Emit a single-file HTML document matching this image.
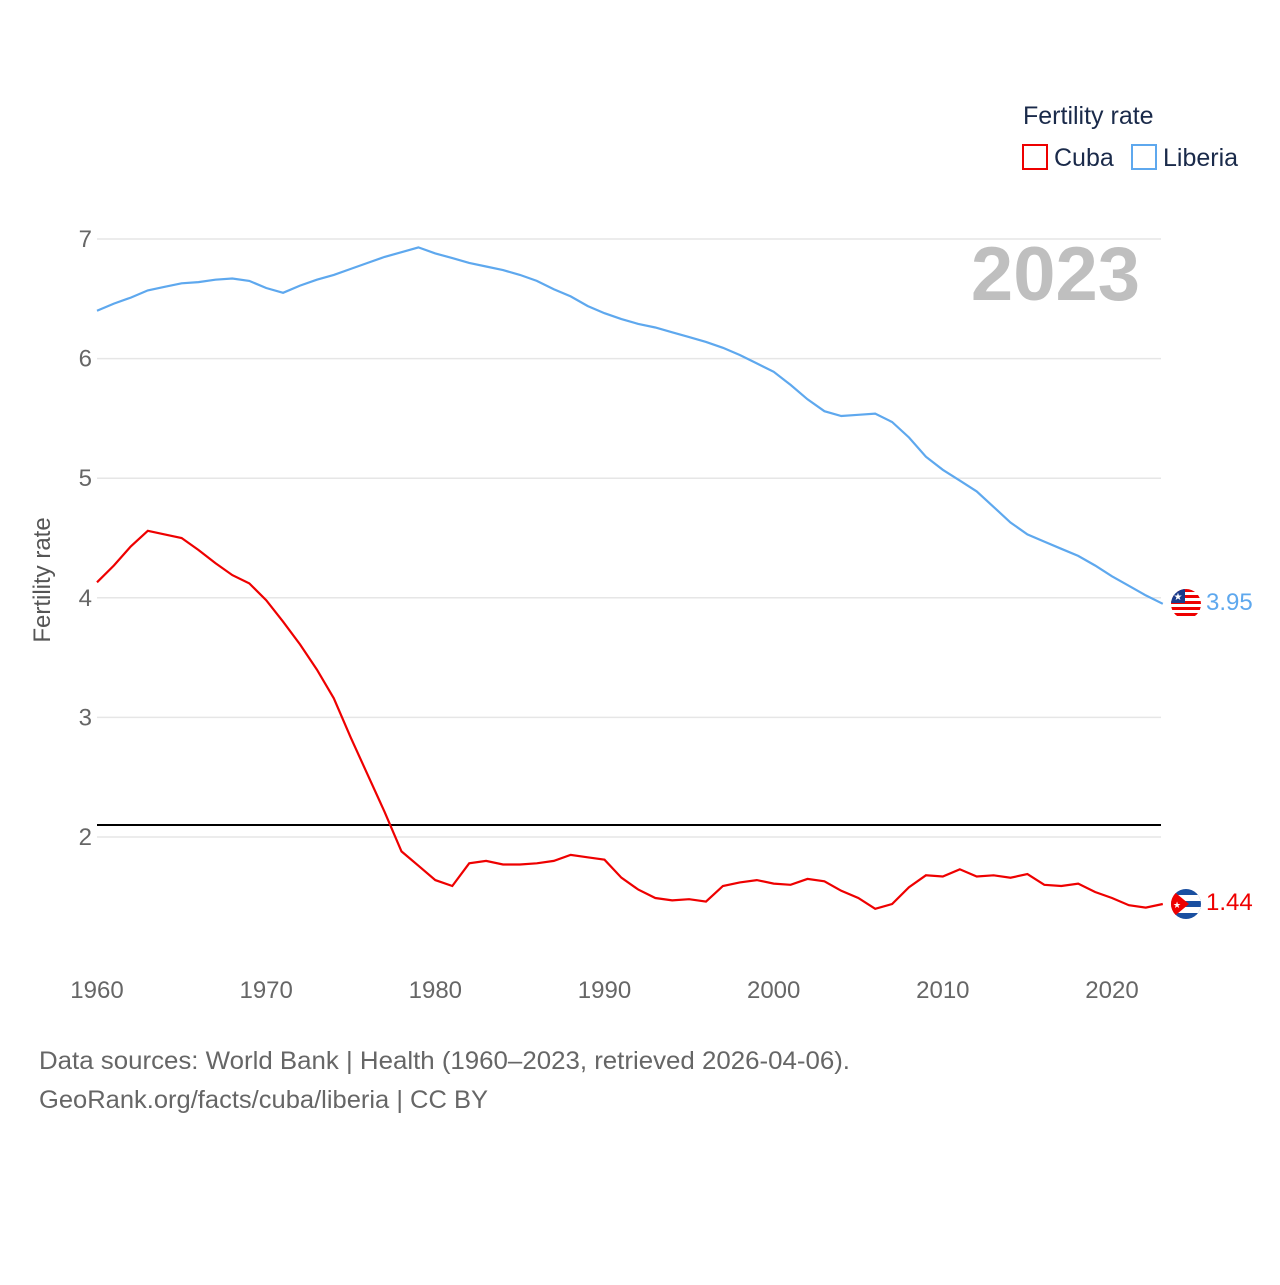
<!DOCTYPE html>
<html><head><meta charset="utf-8"><style>
body{margin:0;background:#fff;font-family:"Liberation Sans",sans-serif}
</style></head><body>
<svg width="1280" height="1280" viewBox="0 0 1280 1280" xmlns="http://www.w3.org/2000/svg" font-family="Liberation Sans, sans-serif">
<defs>
<clipPath id="c1"><circle cx="1186" cy="604" r="15"/></clipPath>
<clipPath id="c2"><circle cx="1186" cy="904" r="15"/></clipPath>
</defs>
<g id="grid"></g>
<g id="axes"></g>
<text x="1140" y="300" text-anchor="end" font-size="76" font-weight="bold" fill="#bfbfbf">2023</text>
<text transform="translate(50,580) rotate(-90)" text-anchor="middle" font-size="24" fill="#555">Fertility rate</text>
<line x1="97" x2="1161" y1="825" y2="825" stroke="#000" stroke-width="2"/>
<g id="series"></g>
<g clip-path="url(#c1)">
<rect x="1171" y="589" width="30" height="30" fill="#fff"/>
<rect x="1171" y="589" width="30" height="3" fill="#e00"/><rect x="1171" y="595" width="30" height="3" fill="#e00"/><rect x="1171" y="601" width="30" height="3" fill="#e00"/><rect x="1171" y="607" width="30" height="3" fill="#e00"/><rect x="1171" y="613" width="30" height="3" fill="#e00"/>
<rect x="1171" y="589" width="14" height="14" fill="#1a3a8a"/>
<text x="1178" y="600" text-anchor="middle" font-size="10" fill="#fff">★</text>
</g>
<g clip-path="url(#c2)">
<rect x="1171" y="889" width="30" height="30" fill="#1a4fa0"/>
<rect x="1171" y="895" width="30" height="6" fill="#fff"/><rect x="1171" y="907" width="30" height="6" fill="#fff"/>
<polygon points="1171,889 1189,904 1171,919" fill="#e00"/>
<text x="1177" y="908" text-anchor="middle" font-size="9" fill="#fff">★</text>
</g>
<text x="1206" y="610" font-size="24" fill="#5ea8ee">3.95</text>
<text x="1206" y="910" font-size="24" fill="#e00">1.44</text>
<text x="1023" y="124" font-size="25" fill="#1a2a4a">Fertility rate</text>
<rect x="1023" y="145" width="24" height="24" fill="none" stroke="#e00" stroke-width="2"/>
<text x="1054" y="166" font-size="25" fill="#1a2a4a">Cuba</text>
<rect x="1132" y="145" width="24" height="24" fill="none" stroke="#5ea8ee" stroke-width="2"/>
<text x="1163" y="166" font-size="25" fill="#1a2a4a">Liberia</text>
<text x="39" y="1069" font-size="25" fill="#666" textLength="811" lengthAdjust="spacingAndGlyphs">Data sources: World Bank | Health (1960–2023, retrieved 2026-04-06).</text>
<text x="39" y="1108" font-size="25" fill="#666" textLength="449" lengthAdjust="spacingAndGlyphs">GeoRank.org/facts/cuba/liberia | CC BY</text>
</svg>
<script>
const years=[];for(let y=1960;y<=2023;y++)years.push(y);
const cuba=[4.13,4.27,4.43,4.56,4.53,4.50,4.40,4.29,4.19,4.12,3.98,3.80,3.61,3.40,3.16,2.83,2.52,2.21,1.88,1.76,1.64,1.59,1.78,1.80,1.77,1.77,1.78,1.80,1.85,1.83,1.81,1.66,1.56,1.49,1.47,1.48,1.46,1.59,1.62,1.64,1.61,1.60,1.65,1.63,1.55,1.49,1.40,1.44,1.58,1.68,1.67,1.73,1.67,1.68,1.66,1.69,1.60,1.59,1.61,1.54,1.49,1.43,1.41,1.44];
const liberia=[6.40,6.46,6.51,6.57,6.60,6.63,6.64,6.66,6.67,6.65,6.59,6.55,6.61,6.66,6.70,6.75,6.80,6.85,6.89,6.93,6.88,6.84,6.80,6.77,6.74,6.70,6.65,6.58,6.52,6.44,6.38,6.33,6.29,6.26,6.22,6.18,6.14,6.09,6.03,5.96,5.89,5.78,5.66,5.56,5.52,5.53,5.54,5.47,5.34,5.18,5.07,4.98,4.89,4.76,4.63,4.53,4.47,4.41,4.35,4.27,4.18,4.10,4.02,3.95];
const yTicks=[2,3,4,5,6,7];
const xTicks=[1960,1970,1980,1990,2000,2010,2020];
const X=y=>97+(y-1960)*(1112-97)/60;
const Y=v=>837-(v-2)*119.6;
const NS="http://www.w3.org/2000/svg";
const g=document.getElementById('grid'),a=document.getElementById('axes'),s=document.getElementById('series');
yTicks.forEach(t=>{
 const l=document.createElementNS(NS,'line');
 
 
 l.setAttribute('x1',97);l.setAttribute('x2',1161);l.setAttribute('y1',Y(t));l.setAttribute('y2',Y(t));
 l.setAttribute('stroke','#e6e6e6');l.setAttribute('stroke-width','1.5');g.appendChild(l);
 const tx=document.createElementNS(NS,'text');
 
 
 tx.setAttribute('x',92);tx.setAttribute('y',Y(t)+8);tx.setAttribute('text-anchor','end');
 tx.setAttribute('font-size','24');tx.setAttribute('fill','#666');tx.textContent=t;a.appendChild(tx);
});
xTicks.forEach(t=>{
 const tx=document.createElementNS(NS,'text');
 
 
 tx.setAttribute('x',X(t));tx.setAttribute('y',998);tx.setAttribute('text-anchor','middle');
 tx.setAttribute('font-size','24');tx.setAttribute('fill','#666');tx.textContent=t;a.appendChild(tx);
});
[[liberia,'#5ea8ee','liberia-line'],[cuba,'#ee0000','cuba-line']].forEach(([d,c,n])=>{
 const p=document.createElementNS(NS,'path');
 
 
 p.setAttribute('d',d.map((v,i)=>(i?'L':'M')+X(years[i]).toFixed(1)+','+Y(v).toFixed(1)).join(''));
 p.setAttribute('fill','none');p.setAttribute('stroke',c);p.setAttribute('stroke-width','2.2');s.appendChild(p);
});
</script>
</body></html>
